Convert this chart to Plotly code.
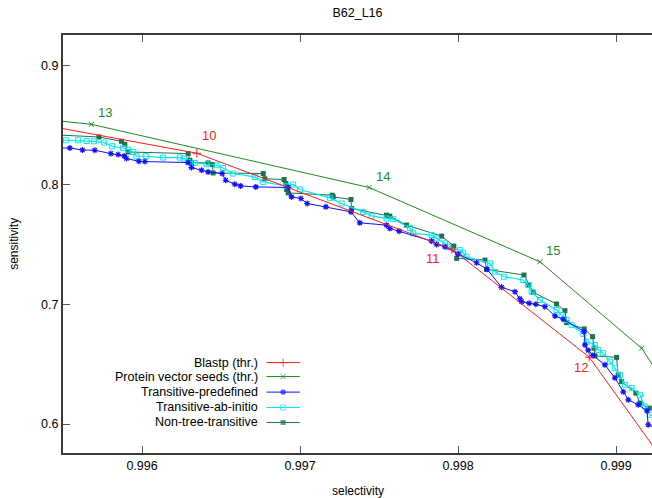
import plotly.graph_objects as go

# ---------------- data ----------------
blastp_x = [0.995353, 0.996347, 0.997961, 0.998830, 0.999277]
blastp_y = [0.85074, 0.82653, 0.74637, 0.65595, 0.57354]

pvs_x = [0.995353, 0.995680, 0.997437, 0.998518, 0.999161, 0.999309]
pvs_y = [0.85533, 0.85074, 0.79789, 0.73577, 0.66346, 0.63366]

tp_x = [0.995417, 0.995543, 0.995623, 0.995701, 0.995803, 0.995849, 0.995887, 0.995902,
        0.995980, 0.996018, 0.996292, 0.996313, 0.996377, 0.996418, 0.996507, 0.996529,
        0.996587, 0.996623, 0.996720, 0.996925, 0.996946, 0.997005, 0.997045, 0.997163,
        0.997322, 0.997378, 0.997547, 0.997568, 0.997627, 0.997832, 0.997864, 0.997917,
        0.998001, 0.998117, 0.998184, 0.998275, 0.998360, 0.998391, 0.998402, 0.998450,
        0.998492, 0.998549, 0.998613, 0.998665, 0.998798, 0.998803, 0.998823, 0.998853,
        0.998929, 0.998992, 0.999045, 0.999077, 0.999140, 0.999195, 0.999203, 0.999277]
tp_y = [0.83095, 0.83095, 0.82928, 0.82903, 0.82627, 0.82544, 0.82427, 0.82210,
        0.81985, 0.81960, 0.81876, 0.81459, 0.81233, 0.81091, 0.80958, 0.80398,
        0.80064, 0.79922, 0.79839, 0.79789, 0.79004, 0.78870, 0.78453, 0.78169,
        0.77752, 0.76833, 0.76641, 0.76365, 0.76140, 0.75305, 0.75030, 0.74829,
        0.74220, 0.73493, 0.72942, 0.71439, 0.71072, 0.70488, 0.70237, 0.70104,
        0.70020, 0.69820, 0.69043, 0.68768, 0.67732, 0.66622, 0.66179, 0.65745,
        0.64952, 0.63867, 0.62698, 0.62030, 0.61612, 0.61111, 0.59942, 0.59525]

tai_x = [0.995417, 0.995518, 0.995596, 0.995649, 0.995697, 0.995760, 0.995811, 0.995880,
         0.995912, 0.995944, 0.995965, 0.996024, 0.996134, 0.996239, 0.996265, 0.996292,
         0.996334, 0.996408, 0.996472, 0.996513, 0.996577, 0.996714, 0.996767, 0.996915,
         0.996956, 0.996999, 0.997189, 0.997263, 0.997399, 0.997453, 0.997547, 0.997589,
         0.997695, 0.997716, 0.997832, 0.997864, 0.997917, 0.997937, 0.998011, 0.998032,
         0.998054, 0.998201, 0.998233, 0.998290, 0.998412, 0.998444, 0.998465, 0.998518,
         0.998623, 0.998655, 0.998687, 0.998718, 0.998792, 0.998813, 0.998866, 0.998887,
         0.998918, 0.998961, 0.998992, 0.999024, 0.999056, 0.999098, 0.999151, 0.999182,
         0.999214, 0.999290]
tai_y = [0.83780, 0.83738, 0.83738, 0.83679, 0.83655, 0.83546, 0.83237, 0.83095,
         0.82962, 0.82761, 0.82402, 0.82402, 0.82294, 0.82294, 0.82210, 0.81926,
         0.81843, 0.81734, 0.81651, 0.81425, 0.80958, 0.80674, 0.80256, 0.79897,
         0.80039, 0.79622, 0.78920, 0.78453, 0.77752, 0.77417, 0.77200, 0.77142,
         0.76416, 0.75948, 0.75806, 0.75531, 0.75113, 0.74829, 0.74554, 0.74328,
         0.73994, 0.73443, 0.72742, 0.72324, 0.72049, 0.71631, 0.71072, 0.70379,
         0.69544, 0.69127, 0.68709, 0.68292, 0.67540, 0.66897, 0.66622, 0.66204,
         0.65929, 0.65227, 0.64676, 0.64117, 0.63282, 0.63007, 0.62447, 0.61470,
         0.60777, 0.60193]

ntt_x = [0.995417, 0.995728, 0.995870, 0.995891, 0.995912, 0.996292, 0.996303, 0.996313,
         0.996418, 0.996446, 0.996450, 0.996767, 0.996777, 0.996899, 0.996910, 0.996915,
         0.996925, 0.997203, 0.997210, 0.997322, 0.997326, 0.997547, 0.997568, 0.997674,
         0.997896, 0.997973, 0.997991, 0.998170, 0.998180, 0.998417, 0.998448, 0.998475,
         0.998623, 0.998676, 0.998687, 0.998798, 0.998851, 0.998860, 0.998866, 0.999003,
         0.999013, 0.999035, 0.999125, 0.999151, 0.999210, 0.999290]
ntt_y = [0.84214, 0.84014, 0.83655, 0.83404, 0.82761, 0.82627, 0.82068, 0.81876,
         0.81843, 0.81709, 0.81008, 0.80958, 0.80523, 0.80457, 0.80123, 0.79622,
         0.79338, 0.79146, 0.79004, 0.78787, 0.78035, 0.77476, 0.77393, 0.76641,
         0.75723, 0.74888, 0.73861, 0.73719, 0.72942, 0.72466, 0.71631, 0.71022,
         0.70045, 0.69486, 0.68484, 0.67958, 0.67315, 0.66346, 0.65703, 0.65578,
         0.64117, 0.63558, 0.62589, 0.61754, 0.61337, 0.60527]

# threshold labels
lbl_text = ["13", "10", "14", "15", "11", "12"]
lbl_x = [0.995765, 0.996423, 0.997524, 0.998600, 0.997841, 0.998777]
lbl_y = [0.86076, 0.84155, 0.80732, 0.74554, 0.73886, 0.64701]
lbl_series = ["pvs", "blastp", "pvs", "pvs", "blastp", "blastp"]

x_ticks = [0.996, 0.997, 0.998, 0.999]
y_ticks = [0.6, 0.7, 0.8, 0.9]

legend_names = ["Blastp (thr.)", "Protein vector seeds (thr.)", "Transitive-predefined",
                "Transitive-ab-initio", "Non-tree-transitive"]

# ---------------- style ----------------
RED = "#ff1a1a"
GREEN = "#1f8a1f"
BLUE = "#1010ff"
CYAN = "#00e8f4"
DKGREEN = "#1e7248"
FONT = "Liberation Sans, Arial, sans-serif"

styles = [
    dict(color=RED, symbol="cross-thin", size=6, lw=1.0, mlw=1.0),
    dict(color=GREEN, symbol="x-thin", size=5, lw=1.0, mlw=1.0),
    dict(color=BLUE, symbol="asterisk", size=5, lw=1.0, mlw=1.2),
    dict(color=CYAN, symbol="square-open", size=5, lw=1.2, mlw=1.0),
    dict(color=DKGREEN, symbol="square", size=5, lw=1.0, mlw=0),
]

fig = go.Figure()

def main_trace(x, y, st):
    return go.Scatter(
        x=x, y=y, mode="lines+markers", showlegend=False,
        line=dict(color=st["color"], width=st["lw"]),
        marker=dict(symbol=st["symbol"], size=st["size"], color=st["color"],
                    line=dict(color=st["color"], width=st["mlw"])),
        hoverinfo="x+y",
    )

fig.add_trace(main_trace(ntt_x, ntt_y, styles[4]))
fig.add_trace(main_trace(tai_x, tai_y, styles[3]))
fig.add_trace(main_trace(tp_x, tp_y, styles[2]))
fig.add_trace(main_trace(blastp_x, blastp_y, styles[0]))
fig.add_trace(main_trace(pvs_x, pvs_y, styles[1]))

for t, lx, ly, s in zip(lbl_text, lbl_x, lbl_y, lbl_series):
    fig.add_annotation(x=lx, y=ly, text=t, showarrow=False, xref="x", yref="y",
                       font=dict(family=FONT, size=13, color=RED if s == "blastp" else GREEN))

# gnuplot-style key: text right-aligned, sample to its right
key_y = [0.2163, 0.1829, 0.1457, 0.1089, 0.0731]
key_text_x = 0.3345
key_line_x = [0.3455, 0.3737, 0.4020]
for name, ky, st in zip(legend_names, key_y, styles):
    fig.add_annotation(x=key_text_x, y=ky, xref="paper", yref="paper", text=name,
                       showarrow=False, xanchor="right", yanchor="middle",
                       font=dict(family=FONT, size=12.5, color="black"))
    fig.add_trace(go.Scatter(
        x=key_line_x, y=[ky, ky, ky], xaxis="x2", yaxis="y2", mode="lines+markers",
        showlegend=False, hoverinfo="skip",
        line=dict(color=st["color"], width=st["lw"]),
        marker=dict(symbol=st["symbol"], size=[0, st["size"], 0], color=st["color"],
                    line=dict(color=st["color"], width=st["mlw"])),
    ))

AX = "#3a3a3a"
fig.update_layout(
    width=652, height=498,
    margin=dict(l=63, r=0, t=35, b=45),
    paper_bgcolor="white", plot_bgcolor="white",
    font=dict(family=FONT, size=12, color="black"),
    title=dict(text="B62_L16", x=0.5, xref="paper", y=1 - 13 / 498, yref="container",
               xanchor="center", yanchor="middle", font=dict(family=FONT, size=12.5)),
    xaxis=dict(range=[0.9955, 0.999227], tickvals=x_ticks, ticktext=[f"{v:.3f}" for v in x_ticks],
               ticks="inside", ticklen=7, tickcolor="#555", tickwidth=1,
               showline=True, linecolor=AX, linewidth=2, mirror="ticks",
               showgrid=False, zeroline=False, tickfont=dict(size=12.5)),
    yaxis=dict(range=[0.57579, 0.92547], tickvals=y_ticks, ticktext=[f"{v:.1f}" for v in y_ticks],
               ticks="inside", ticklen=7, tickcolor="#555", tickwidth=1,
               showline=True, linecolor=AX, linewidth=2, mirror=False,
               showgrid=False, zeroline=False, tickfont=dict(size=12.5)),
    xaxis2=dict(overlaying="x", range=[0, 1], visible=False, fixedrange=True),
    yaxis2=dict(overlaying="y", range=[0, 1], visible=False, fixedrange=True),
)

fig.add_annotation(x=0.5, y=-0.090, xref="paper", yref="paper", text="selectivity",
                   showarrow=False, yanchor="middle", font=dict(family=FONT, size=12))
fig.add_annotation(x=-0.0835, y=0.5, xref="paper", yref="paper", text="sensitivity",
                   showarrow=False, textangle=-90, xanchor="center", yanchor="middle",
                   font=dict(family=FONT, size=12))

fig.write_html("out.html", config={"displayModeBar": False},
               post_script="document.body.style.margin='0';document.body.style.overflow='hidden';")
